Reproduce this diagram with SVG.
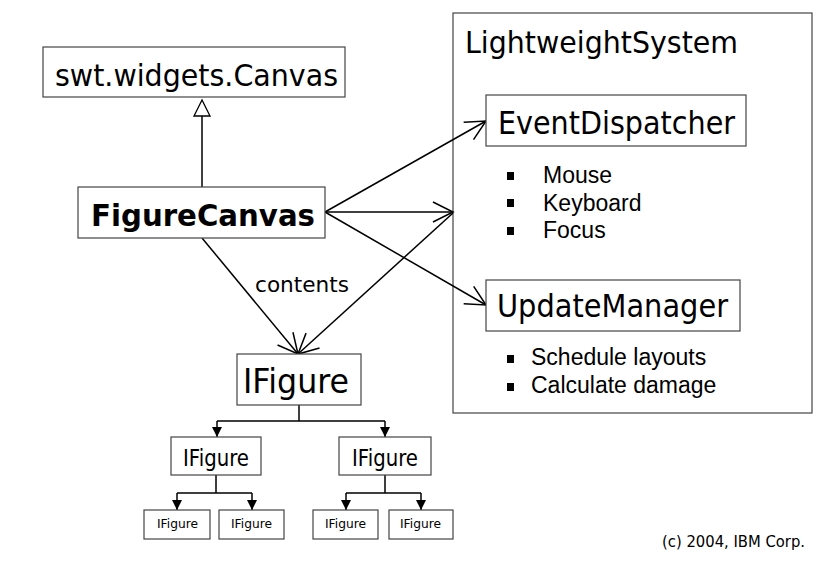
<svg xmlns="http://www.w3.org/2000/svg" width="838" height="562" viewBox="0 0 838 562">
<style>
.box{fill:#fff;stroke:#444;stroke-width:1.2}
.t{font-family:"DejaVu Sans","Liberation Sans",sans-serif;fill:#000}
.b{font-family:"Liberation Sans",Arial,sans-serif;fill:#000;font-size:23px}
.ln{stroke:#000;stroke-width:1.5;fill:none}
.ar{marker-end:url(#open)}
.fa{marker-end:url(#fill)}
</style>
<defs>
<marker id="open" markerUnits="userSpaceOnUse" viewBox="-22 -12 24 24" refX="0" refY="0" markerWidth="24" markerHeight="24" orient="auto" overflow="visible">
<path d="M-20,-10 L0,0 L-20,10" fill="none" stroke="#000" stroke-width="1.5"/>
</marker>
<marker id="fill" markerUnits="userSpaceOnUse" viewBox="-11 -6 12 12" refX="0" refY="0" markerWidth="12" markerHeight="12" orient="auto" overflow="visible">
<path d="M-10,-5 L0,0 L-10,5 Z" fill="#000"/>
</marker>
</defs>
<rect width="838" height="562" fill="#fff"/>

<g id="lws">
<rect class="box" x="453" y="13" width="359" height="400"/>
<text class="t" x="465" y="53" font-size="30" textLength="273" lengthAdjust="spacingAndGlyphs">LightweightSystem</text>
</g>

<g id="connectors">
<line class="ln" x1="202" y1="187" x2="202" y2="116"/>
<polygon points="202,100 194,116 210,116" fill="#fff" stroke="#000" stroke-width="1.3"/>
<line class="ln ar" x1="325" y1="212" x2="486" y2="121"/>
<line class="ln ar" x1="325" y1="212" x2="453" y2="212"/>
<line class="ln ar" x1="325" y1="212" x2="486" y2="305"/>
<line class="ln ar" x1="202" y1="238" x2="298" y2="354"/>
<line class="ln ar" x1="453" y1="213" x2="298" y2="354"/>
<path class="ln" d="M299,405 V421 M217,421 H385 M216,475 V493 M177,493 H252 M385,475 V493 M346,493 H421"/>
<line class="ln fa" x1="217" y1="421" x2="217" y2="437"/>
<line class="ln fa" x1="385" y1="421" x2="385" y2="437"/>
<line class="ln fa" x1="177" y1="493" x2="177" y2="510"/>
<line class="ln fa" x1="252" y1="493" x2="252" y2="510"/>
<line class="ln fa" x1="346" y1="493" x2="346" y2="510"/>
<line class="ln fa" x1="421" y1="493" x2="421" y2="510"/>
<text class="t" x="255" y="292" font-size="22" textLength="94" lengthAdjust="spacingAndGlyphs">contents</text>
</g>

<g id="canvas">
<rect class="box" x="43" y="47" width="302" height="50"/>
<text class="t" x="55" y="86" font-size="30" textLength="283" lengthAdjust="spacingAndGlyphs">swt.widgets.Canvas</text>
</g>

<g id="figurecanvas">
<rect class="box" x="78" y="187" width="247" height="51"/>
<text class="t" x="91" y="226" font-size="31" font-weight="bold" textLength="224" lengthAdjust="spacingAndGlyphs">FigureCanvas</text>
</g>

<g id="eventdispatcher">
<rect class="box" x="486" y="95" width="260" height="51"/>
<text class="t" x="498" y="134" font-size="32" textLength="237" lengthAdjust="spacingAndGlyphs">EventDispatcher</text>
<rect x="507" y="172" width="7" height="8"/>
<rect x="507" y="199" width="7" height="8"/>
<rect x="507" y="227" width="7" height="8"/>
<text class="b" x="543" y="183">Mouse</text>
<text class="b" x="543" y="211">Keyboard</text>
<text class="b" x="543" y="238">Focus</text>
</g>

<g id="updatemanager">
<rect class="box" x="486" y="280" width="254" height="51"/>
<text class="t" x="497" y="317" font-size="32" textLength="231" lengthAdjust="spacingAndGlyphs">UpdateManager</text>
<rect x="507" y="355" width="7" height="8"/>
<rect x="507" y="383" width="7" height="8"/>
<text class="b" x="531" y="365">Schedule layouts</text>
<text class="b" x="531" y="393">Calculate damage</text>
</g>

<g id="ifigure">
<rect class="box" x="237" y="354" width="124" height="51"/>
<text class="t" x="243" y="393" font-size="33" textLength="106" lengthAdjust="spacingAndGlyphs">IFigure</text>
</g>
<g id="ifigure-l">
<rect class="box" x="171" y="437" width="90" height="38"/>
<text class="t" x="183" y="466" font-size="23" textLength="66" lengthAdjust="spacingAndGlyphs">IFigure</text>
</g>
<g id="ifigure-r">
<rect class="box" x="339" y="437" width="92" height="38"/>
<text class="t" x="352" y="466" font-size="23" textLength="66" lengthAdjust="spacingAndGlyphs">IFigure</text>
</g>
<g id="ifigure-ll">
<rect class="box" x="144" y="510" width="66" height="29"/>
<text class="t" x="157" y="528" font-size="13" textLength="41" lengthAdjust="spacingAndGlyphs">IFigure</text>
</g>
<g id="ifigure-lr">
<rect class="box" x="219" y="510" width="65" height="29"/>
<text class="t" x="231" y="528" font-size="13" textLength="41" lengthAdjust="spacingAndGlyphs">IFigure</text>
</g>
<g id="ifigure-rl">
<rect class="box" x="313" y="510" width="65" height="29"/>
<text class="t" x="325" y="528" font-size="13" textLength="41" lengthAdjust="spacingAndGlyphs">IFigure</text>
</g>
<g id="ifigure-rr">
<rect class="box" x="389" y="510" width="64" height="29"/>
<text class="t" x="400" y="528" font-size="13" textLength="41" lengthAdjust="spacingAndGlyphs">IFigure</text>
</g>

<text class="t" x="662" y="547" font-size="15" textLength="143" lengthAdjust="spacingAndGlyphs">(c) 2004, IBM Corp.</text>
</svg>
